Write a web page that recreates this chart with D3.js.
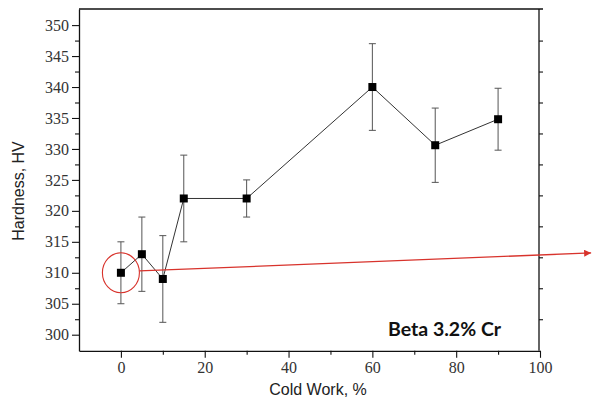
<!DOCTYPE html>
<html>
<head>
<meta charset="utf-8">
<script src="https://cdn.jsdelivr.net/npm/d3@7/dist/d3.min.js"></script>
<style>
  html, body { margin: 0; padding: 0; background: #fff; }
  svg { display: block; }
</style>
</head>
<body>
<svg id="chart" width="593" height="405"></svg>
<script>
// ---- data ----
const coldWork = [0, 5, 10, 15, 30, 60, 75, 90];
const hardness = [310, 313, 309, 322, 322, 340, 330.6, 334.8];
const errLow   = [305, 307, 302, 315, 319, 333, 324.6, 329.8];
const errHigh  = [315, 319, 316, 329, 325, 347, 336.6, 339.8];

const xMajorTicks = [0, 20, 40, 60, 80, 100];
const xMinorTicks = [10, 30, 50, 70, 90];
const yMajorTicks = [300, 305, 310, 315, 320, 325, 330, 335, 340, 345, 350];
const yMinorTicks = [302.5, 307.5, 312.5, 317.5, 322.5, 327.5, 332.5, 337.5, 342.5, 347.5];
const yRightTicks = [302.5, 307.5, 312.5, 317.5, 322.5, 327.5, 332.5, 337.5, 342.5, 347.5];

const xTitle = "Cold Work, %";
const yTitle = "Hardness, HV";
const noteText = "Beta 3.2% Cr";
// annotation: circle around first point, arrow pointing right (data units)
const circlePoint = [0, 310];
const arrowStart = [4.4, 310.3];
const arrowEnd = [112.2, 313.2];

// ---- layout ----
const SERIF = "'Times New Roman', Times, 'Liberation Serif', Tinos, 'DejaVu Serif', serif";
const SANS = "Arial, Helvetica, 'Liberation Sans', Arimo, 'DejaVu Sans', sans-serif";
const svg = d3.select("#chart");
const L = 79, R = 540, T = 9, B = 350.8;
const x = d3.scaleLinear().domain([-10, 100]).range([L, R]);
const y = d3.scaleLinear().domain([297.4, 352.6]).range([B, T]);

const axisColor = "#111";

// frame (top + right lines)
svg.append("line").attr("x1", L).attr("x2", R + 3).attr("y1", T).attr("y2", T)
  .attr("stroke", axisColor).attr("stroke-width", 1.3);
svg.append("line").attr("x1", R - 1).attr("x2", R - 1).attr("y1", T).attr("y2", B)
  .attr("stroke", axisColor).attr("stroke-width", 1.3);

// left axis
const gL = svg.append("g").attr("transform", `translate(${L},0)`);
gL.call(d3.axisLeft(y).tickValues(yMajorTicks).tickSize(7).tickSizeOuter(0).tickPadding(3));
const gLm = svg.append("g").attr("transform", `translate(${L},0)`);
gLm.call(d3.axisLeft(y).tickValues(yMinorTicks).tickSize(4).tickSizeOuter(0).tickFormat(""));
gLm.select(".domain").remove();

// bottom axis
const gB = svg.append("g").attr("transform", `translate(0,${B})`);
gB.call(d3.axisBottom(x).tickValues(xMajorTicks).tickSize(7).tickSizeOuter(0).tickPadding(4));
const gBm = svg.append("g").attr("transform", `translate(0,${B})`);
gBm.call(d3.axisBottom(x).tickValues(xMinorTicks).tickSize(4).tickSizeOuter(0).tickFormat(""));
gBm.select(".domain").remove();

// right axis ticks
const gR = svg.append("g").attr("transform", `translate(${R - 1},0)`);
gR.call(d3.axisRight(y).tickValues(yRightTicks).tickSize(4).tickSizeOuter(0).tickFormat(""));
gR.select(".domain").remove();

[gL, gB].forEach(g => g.attr("font-family", SERIF).attr("font-size", 16));
svg.selectAll(".domain").attr("stroke", axisColor).attr("stroke-width", 1.3);
svg.selectAll(".tick line").attr("stroke", axisColor).attr("stroke-width", 1.1);
svg.selectAll(".tick text")
  .attr("font-family", SERIF)
  .attr("font-size", 16).attr("fill", "#333");

// axis titles
svg.append("text").attr("x", 318).attr("y", 395)
  .attr("text-anchor", "middle")
  .attr("font-family", SANS)
  .attr("font-size", 16).attr("fill", "#222").text(xTitle);
svg.append("text")
  .attr("transform", "translate(24,191) rotate(-90)")
  .attr("text-anchor", "middle")
  .attr("font-family", SANS)
  .attr("font-size", 16).attr("fill", "#222").text(yTitle);

// connecting line
const pts = coldWork.map((c, i) => [c, hardness[i]]);
svg.append("path")
  .attr("d", d3.line().x(d => x(d[0])).y(d => y(d[1]))(pts))
  .attr("fill", "none").attr("stroke", "#333").attr("stroke-width", 1);

// error bars
const eb = svg.append("g").attr("stroke", "#555").attr("stroke-width", 1);
coldWork.forEach((c, i) => {
  const cx = x(c);
  eb.append("line").attr("x1", cx).attr("x2", cx).attr("y1", y(errLow[i])).attr("y2", y(errHigh[i]));
  eb.append("line").attr("x1", cx - 3.5).attr("x2", cx + 3.5).attr("y1", y(errLow[i])).attr("y2", y(errLow[i]));
  eb.append("line").attr("x1", cx - 3.5).attr("x2", cx + 3.5).attr("y1", y(errHigh[i])).attr("y2", y(errHigh[i]));
});

// markers
svg.append("g").selectAll("rect").data(pts).join("rect")
  .attr("x", d => x(d[0]) - 4).attr("y", d => y(d[1]) - 4)
  .attr("width", 8).attr("height", 8).attr("fill", "#000");

// annotation
const red = "#d8332c";
svg.append("ellipse")
  .attr("cx", x(circlePoint[0])).attr("cy", y(circlePoint[1]))
  .attr("rx", 18.5).attr("ry", 20)
  .attr("fill", "none").attr("stroke", red).attr("stroke-width", 1.1);

const defs = svg.append("defs");
defs.append("marker").attr("id", "arrow")
  .attr("viewBox", "0 0 10 10").attr("refX", 10).attr("refY", 5)
  .attr("markerWidth", 9).attr("markerHeight", 7).attr("markerUnits", "userSpaceOnUse")
  .attr("orient", "auto")
  .append("path").attr("d", "M0,0 L10,5 L0,10 Z").attr("fill", red);

svg.append("line")
  .attr("x1", x(arrowStart[0])).attr("y1", y(arrowStart[1]))
  .attr("x2", x(arrowEnd[0])).attr("y2", y(arrowEnd[1]))
  .attr("stroke", red).attr("stroke-width", 1.3)
  .attr("marker-end", "url(#arrow)");

svg.append("text").attr("x", 388).attr("y", 336)
  .attr("font-family", "Lato, 'Open Sans', sans-serif")
  .attr("font-weight", "bold").attr("font-size", 19.5).attr("fill", "#111")
  .text(noteText);
</script>
</body>
</html>
